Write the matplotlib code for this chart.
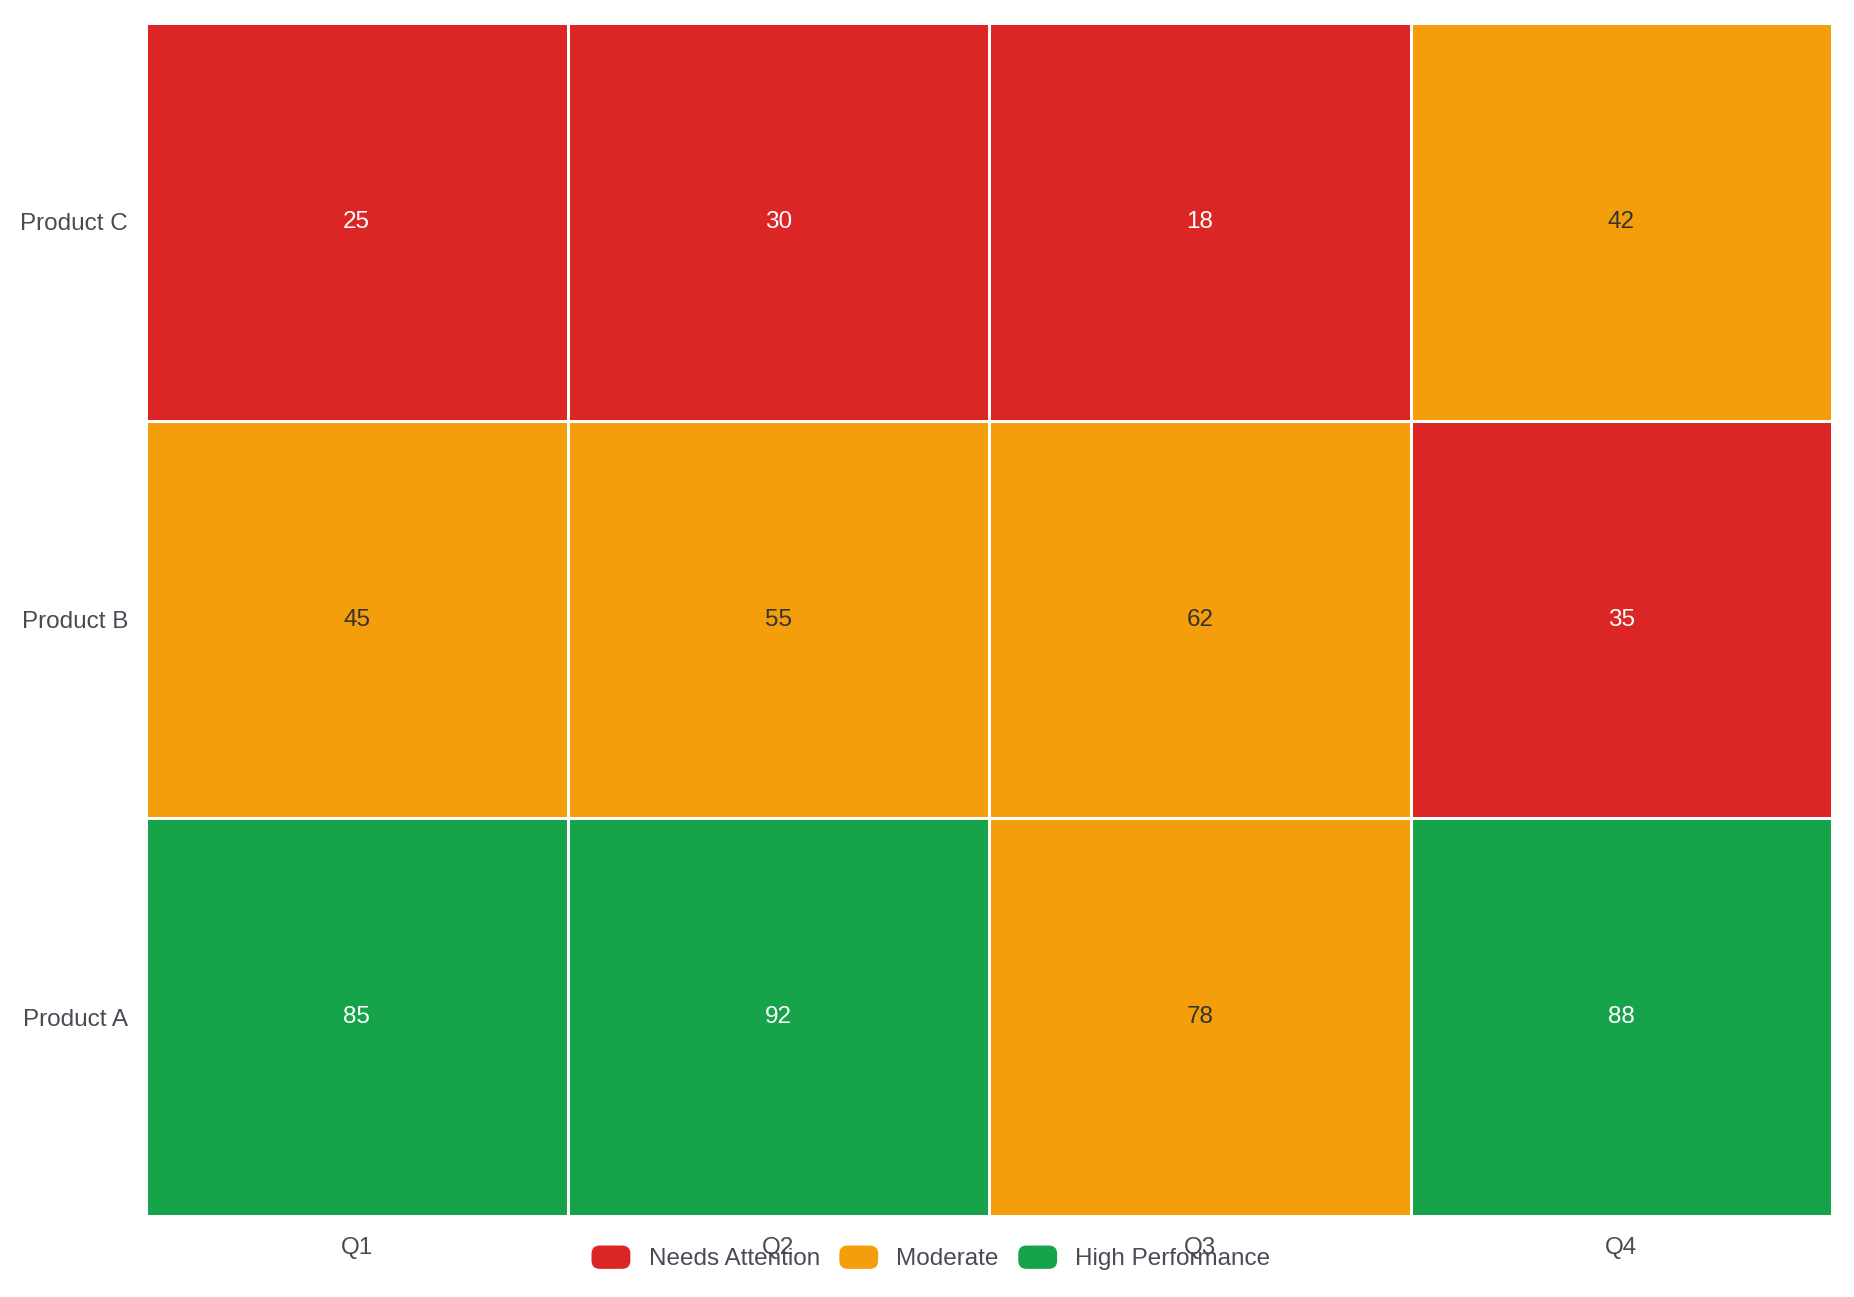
import matplotlib.pyplot as plt
import numpy as np
from matplotlib.colors import BoundaryNorm, ListedColormap
from matplotlib.legend_handler import HandlerPatch
from matplotlib.patches import FancyBboxPatch, Patch

# data
quarters = ["Q1", "Q2", "Q3", "Q4"]
products = ["Product A", "Product B", "Product C"]
product_a = [85, 92, 78, 88]
product_b = [45, 55, 62, 35]
product_c = [25, 30, 18, 42]

status_labels = ["Needs Attention", "Moderate", "High Performance"]
status_colors = ["#DC2626", "#F59E0B", "#16A34A"]
status_bounds = [0, 40, 80, 101]

plt.rcParams["font.family"] = ["Liberation Sans", "DejaVu Sans"]
TEXT = "#4a4a55"


class RoundHandler(HandlerPatch):
    def create_artists(self, legend, orig_handle, xdescent, ydescent,
                       width, height, fontsize, trans):
        p = FancyBboxPatch((-xdescent, -ydescent), width, height,
                           boxstyle="round,pad=0,rounding_size=6",
                           facecolor=orig_handle.get_facecolor(),
                           edgecolor="none", transform=trans)
        return [p]


def main():
    values = np.array([product_a, product_b, product_c])

    W, H = 1854, 1297
    fig = plt.figure(figsize=(W / 100, H / 100), dpi=100)
    ax = fig.add_axes([146 / W, 1 - 1216 / H, (1832 - 146) / W, (1216 - 23) / H])

    cmap = ListedColormap(status_colors)
    norm = BoundaryNorm(status_bounds, cmap.N)
    ax.pcolormesh(values, cmap=cmap, norm=norm, edgecolors="white", linewidth=2)

    for r in range(values.shape[0]):
        for c in range(values.shape[1]):
            v = values[r, c]
            col = "#333333" if status_bounds[1] <= v < status_bounds[2] else "white"
            ax.text(c + 0.5, r + 0.5, str(v), ha="center", va="center",
                    fontsize=17.5, color=col)

    ax.set_xlim(0, len(quarters))
    ax.set_ylim(0, len(products))
    ax.set_xticks(np.arange(len(quarters)) + 0.5, quarters)
    ax.set_yticks(np.arange(len(products)) + 0.5, products)
    ax.tick_params(length=0, labelsize=17.5, labelcolor=TEXT)
    ax.tick_params(axis="x", pad=15)
    ax.tick_params(axis="y", pad=13)
    for s in ax.spines.values():
        s.set_visible(False)

    handles = [Patch(facecolor=c, label=l) for c, l in zip(status_colors, status_labels)]
    fig.legend(handles=handles, loc="center", bbox_to_anchor=(931 / W, 1 - 1258 / H),
               ncol=3, frameon=False, fontsize=17.5, labelcolor=TEXT,
               handlelength=1.6, handleheight=1.1, handletextpad=0.75,
               columnspacing=0.8, handler_map={Patch: RoundHandler()})

    fig.savefig("out.png", dpi=100, facecolor="white")


if __name__ == "__main__":
    main()
